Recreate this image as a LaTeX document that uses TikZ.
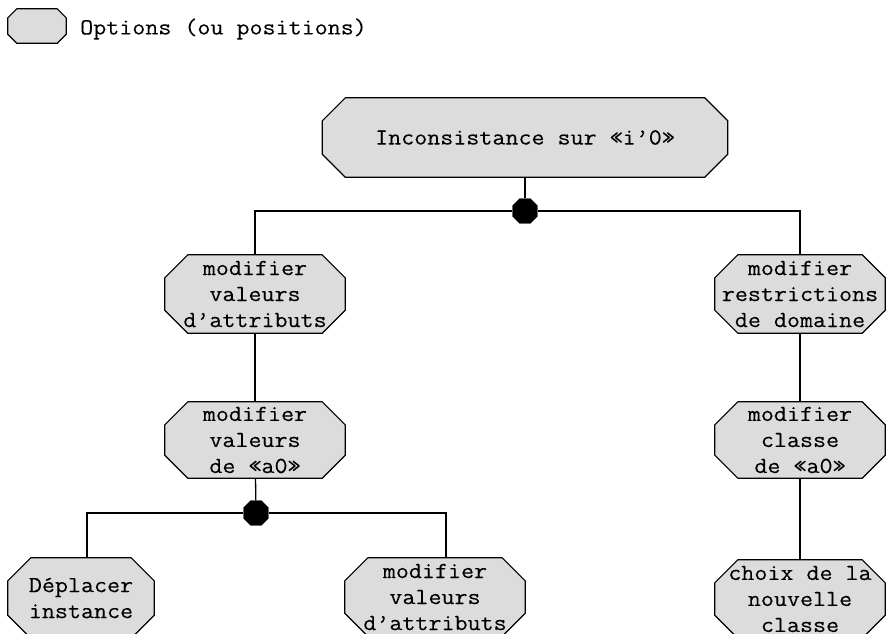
\documentclass[tikz,border=0pt]{standalone}
\usepackage{fontspec}
\setmonofont{Latin Modern Mono}[FakeStretch=1.1,FakeBold=0.12]
\usetikzlibrary{shapes.geometric,backgrounds,calc}
\definecolor{optfill}{HTML}{DCDCDC}
\tikzset{
  option/.style={rectangle, inner sep=0pt, align=center,
    font=\ttfamily\fontsize{23}{26}\selectfont},
  octline/.style={draw=black, line width=1.2pt, fill=optfill, line join=miter},
  junction/.style={regular polygon, regular polygon sides=8, fill=black,
    draw=black, minimum size=27pt, inner sep=0pt},
  link/.style={line width=1.3pt, draw=black}
}
% chamfered outline behind a named node: #1 node name, #2 corner cut in pt
\newcommand\octoframe[2]{%
  \begin{scope}[on background layer]
    \path[octline]
      ($(#1.north west)+(#2pt,0pt)$) -- ($(#1.north east)+(-#2pt,0pt)$) --
      ($(#1.north east)+(0pt,-#2pt)$) -- ($(#1.south east)+(0pt,#2pt)$) --
      ($(#1.south east)+(-#2pt,0pt)$) -- ($(#1.south west)+(#2pt,0pt)$) --
      ($(#1.south west)+(0pt,#2pt)$) -- ($(#1.north west)+(0pt,-#2pt)$) -- cycle;
  \end{scope}}
\begin{document}
\begin{tikzpicture}[x=1pt,y=-1pt]
\useasboundingbox (0,0) rectangle (888,633);
\clip (0,0) rectangle (888,633);

% legend
\node[option, minimum width=58pt, minimum height=34pt] (legend) at (37,26) {};
\octoframe{legend}{9}
\node[anchor=west, inner sep=0pt, font=\ttfamily\fontsize{23}{26}\selectfont]
      (legendtxt) at (80,29) {Options (ou positions)};

% option tree
\node[option, minimum width=405pt, minimum height=79pt] (root) at (525,137.5) {Inconsistance sur «i’0»};
\node[junction] (j1) at (525,211) {};

\node[option, minimum width=180pt, minimum height=78pt] (vattr) at (255,294) {modifier\\valeurs\\d’attributs};
\node[option, minimum width=170pt, minimum height=78pt] (restr) at (800,294) {modifier\\restrictions\\de domaine};

\node[option, minimum width=180pt, minimum height=76pt] (va0) at (255,440) {modifier\\valeurs\\de «a0»};
\node[option, minimum width=170pt, minimum height=76pt] (ca0) at (800,440) {modifier\\classe\\de «a0»};

\node[junction] (j2) at (256,513) {};

\node[option, minimum width=146pt, minimum height=80pt] (depl) at (81,598) {Déplacer\\instance};
\node[option, minimum width=180pt, minimum height=78pt] (vattr2) at (435,597) {modifier\\valeurs\\d’attributs};
\node[option, minimum width=170pt, minimum height=78pt] (choix) at (800,599) {choix de la\\nouvelle\\classe};

\octoframe{root}{23}
\octoframe{vattr}{23}
\octoframe{restr}{23}
\octoframe{va0}{23}
\octoframe{ca0}{23}
\octoframe{depl}{23}
\octoframe{vattr2}{23}
\octoframe{choix}{23}

% connectors
\draw[link] (root) -- (j1);
\draw[link] (j1) -| (vattr.north);
\draw[link] (j1) -| (restr.north);
\draw[link] (vattr) -- (va0);
\draw[link] (restr) -- (ca0);
\draw[link] (va0) -- (j2);
\draw[link] (j2) -| ([xshift=6pt]depl.north);
\draw[link] (j2) -| ([xshift=11pt]vattr2.north);
\draw[link] (ca0) -- (choix);
\end{tikzpicture}
\end{document}
